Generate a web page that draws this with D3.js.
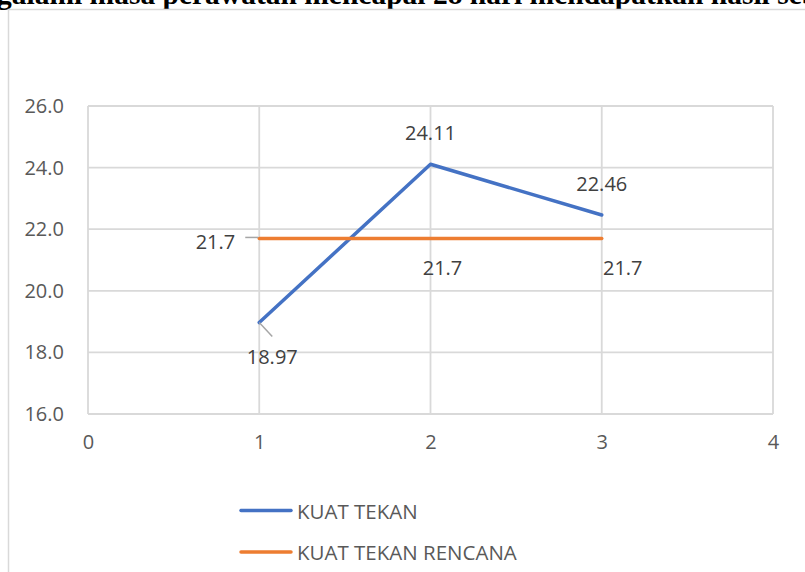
<!DOCTYPE html>
<html>
<head>
<meta charset="UTF-8">
<style>
  body { margin: 0; background: #ffffff; overflow: hidden; }
  svg { display: block; }
</style>
</head>
<body>
<svg width="805" height="572"></svg>
<script src="https://cdn.jsdelivr.net/npm/d3@7"></script>
<script>
// data
const xValues = [1, 2, 3];
const kuatTekan = [18.97, 24.11, 22.46];
const kuatTekanRencana = [21.7, 21.7, 21.7];
const seriesNames = ["KUAT TEKAN", "KUAT TEKAN RENCANA"];
const xTicks = [0, 1, 2, 3, 4];
const yTicks = [16, 18, 20, 22, 24, 26];
const headingText = "mengalami masa perawatan mencapai 28 hari mendapatkan hasil sebagai berikut";

const width = 805, height = 572;
const svg = d3.select("svg");
const plot = {left: 88, right: 773, top: 106, bottom: 414};

let x = d3.scaleLinear().domain([0, 4]).range([plot.left, plot.right]);
let y = d3.scaleLinear().domain([16, 26]).range([plot.bottom, plot.top]);

// heading text, cut off at top (from the document behind the chart)
let head = svg.append("text")
  .attr("y", 4)
  .attr("font-family", "Liberation Serif, serif")
  .attr("font-weight", "bold")
  .attr("font-size", 29.5)
  .attr("fill", "#000")
  .text(headingText);
let cut = head.node().getSubStringLength(0, 3);
head.attr("x", -cut - 3);

// chart border
svg.append("rect")
  .attr("x", 8.5).attr("y", 9.5)
  .attr("width", 820).attr("height", 600)
  .attr("fill", "#fff")
  .attr("stroke", "#d9d9d9").attr("stroke-width", 1.5);

// gridlines
let grid = svg.append("g").attr("stroke", "#d9d9d9").attr("stroke-width", 1.8);
grid.selectAll(".h").data(yTicks).enter().append("line")
  .attr("x1", plot.left).attr("x2", plot.right)
  .attr("y1", d => y(d)).attr("y2", d => y(d));
grid.selectAll(".v").data(xTicks).enter().append("line")
  .attr("y1", plot.top).attr("y2", plot.bottom)
  .attr("x1", d => x(d)).attr("x2", d => x(d));

// axes (labels only, Excel style)
let yAxis = svg.append("g")
  .attr("transform", "translate(" + (plot.left - 24) + ",0)")
  .call(d3.axisLeft(y).tickValues(yTicks).tickFormat(d3.format(".1f")).tickSize(0).tickPadding(0));
let xAxis = svg.append("g")
  .attr("transform", "translate(0," + (plot.bottom + 21) + ")")
  .call(d3.axisBottom(x).tickValues(xTicks).tickFormat(d3.format("d")).tickSize(0).tickPadding(0));
[yAxis, xAxis].forEach(a => {
  a.select(".domain").remove();
  a.selectAll("text")
    .attr("font-family", "Open Sans, sans-serif")
    .attr("font-size", 20)
    .attr("fill", "#595959");
});
xAxis.selectAll("text").attr("dy", "0.71em");

// lines
let line = d3.line().x((d, i) => x(xValues[i])).y(d => y(d));
let colors = ["#4472C4", "#ED7D31"];
[kuatTekan, kuatTekanRencana].forEach((s, k) => {
  svg.append("path")
    .datum(s)
    .attr("d", line)
    .attr("fill", "none")
    .attr("stroke", colors[k])
    .attr("stroke-width", 3.5)
    .attr("stroke-linejoin", "round")
    .attr("stroke-linecap", "round");
});

// data labels, offsets from each point (as Excel placed them)
let labelOffsets = [
  [[13, 34], [0, -32], [0, -32]],
  [[-24, 3], [12, 29], [21, 29]]
];
let leaders = [
  [[0, 0, 13, 14], null, null],
  [[-14, -1, -1, -1], null, null]
];
[kuatTekan, kuatTekanRencana].forEach((s, k) => {
  s.forEach((v, i) => {
    let px = x(xValues[i]), py = y(v);
    let off = labelOffsets[k][i];
    let ld = leaders[k][i];
    if (ld) {
      svg.append("path")
        .attr("d", "M" + (px + ld[0]) + "," + (py + ld[1]) + "L" + (px + ld[2]) + "," + (py + ld[3]))
        .attr("stroke", "#a6a6a6").attr("stroke-width", 1.5).attr("fill", "none");
    }
    svg.append("text")
      .attr("x", px + off[0])
      .attr("y", py + off[1])
      .attr("text-anchor", k == 1 && i == 0 ? "end" : "middle")
      .attr("dominant-baseline", "central")
      .attr("font-family", "Open Sans, sans-serif")
      .attr("font-size", 20)
      .attr("fill", "#404040")
      .text(v);
  });
});

// legend
let legend = svg.append("g");
seriesNames.forEach((name, i) => {
  let ly = 510.5 + i * 41.5;
  legend.append("line")
    .attr("x1", 241).attr("x2", 291)
    .attr("y1", ly).attr("y2", ly)
    .attr("stroke", colors[i]).attr("stroke-width", 3.5)
    .attr("stroke-linecap", "round");
  legend.append("text")
    .attr("x", 297).attr("y", ly)
    .attr("dominant-baseline", "central")
    .attr("font-family", "Open Sans, sans-serif")
    .attr("font-size", 20.5)
    .attr("fill", "#595959")
    .text(name);
});
</script>
</body>
</html>
